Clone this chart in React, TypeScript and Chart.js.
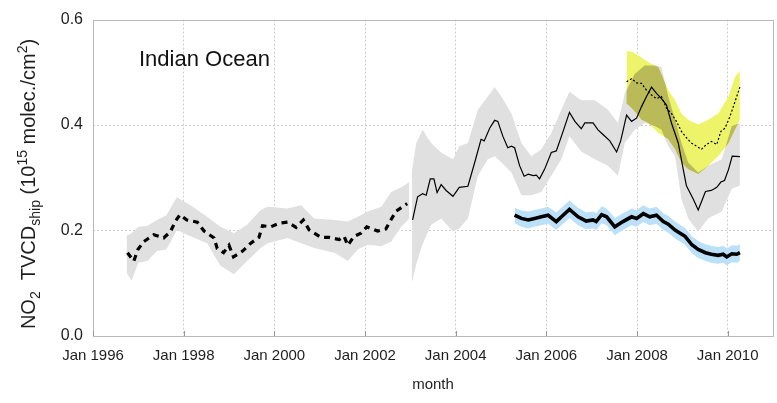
import React, { useEffect, useRef } from 'react';
import { Chart, registerables } from 'chart.js';

Chart.register(...registerables);

const FONT = '"Liberation Sans", Arial, Helvetica, sans-serif';

const X_TICKS = [1996, 1998, 2000, 2002, 2004, 2006, 2008, 2010];
const Y_TICKS = [0, 0.2, 0.4, 0.6];
const PANEL_LABEL = 'Indian Ocean';
const X_TITLE = 'month';

// GOME (dashed thick line + grey band)
const gomeX = [1996.76, 1996.9, 1996.99, 1997.12, 1997.34, 1997.56, 1997.71, 1997.82, 1997.92, 1998.07, 1998.3, 1998.45, 1998.67, 1998.74, 1998.88, 1999.0, 1999.1, 1999.3, 1999.48, 1999.66, 1999.74, 1999.92, 2000.11, 2000.29, 2000.48, 2000.64, 2000.77, 2000.88, 2001.03, 2001.21, 2001.43, 2001.54, 2001.62, 2001.76, 2001.91, 2002.04, 2002.28, 2002.46, 2002.57, 2002.69, 2002.93];
const gomeY = [0.158, 0.142, 0.164, 0.179, 0.192, 0.186, 0.198, 0.218, 0.23, 0.22, 0.216, 0.199, 0.186, 0.166, 0.158, 0.172, 0.15, 0.161, 0.176, 0.187, 0.209, 0.207, 0.214, 0.216, 0.206, 0.22, 0.201, 0.195, 0.187, 0.187, 0.183, 0.189, 0.172, 0.189, 0.195, 0.207, 0.199, 0.203, 0.22, 0.237, 0.251];
const gomeBandX = [1996.74, 1996.85, 1997.0, 1997.2, 1997.41, 1997.62, 1997.85, 1998.15, 1998.52, 1998.81, 1999.11, 1999.4, 1999.7, 1999.85, 2000.29, 2000.59, 2000.88, 2001.33, 2001.62, 2001.84, 2002.06, 2002.36, 2002.58, 2002.8, 2002.98];
const gomeBandUpper = [0.19, 0.195, 0.207, 0.209, 0.22, 0.229, 0.263, 0.248, 0.226, 0.207, 0.195, 0.211, 0.239, 0.245, 0.242, 0.248, 0.223, 0.22, 0.217, 0.226, 0.236, 0.245, 0.273, 0.282, 0.292];
const gomeBandLower = [0.12, 0.105, 0.139, 0.142, 0.161, 0.164, 0.201, 0.189, 0.176, 0.133, 0.117, 0.142, 0.167, 0.176, 0.186, 0.176, 0.167, 0.158, 0.142, 0.164, 0.173, 0.17, 0.179, 0.207, 0.223];

// SCIAMACHY (thin line + grey band)
const sciaX = [2003.05, 2003.16, 2003.27, 2003.35, 2003.44, 2003.52, 2003.59, 2003.68, 2003.79, 2003.94, 2004.08, 2004.27, 2004.42, 2004.56, 2004.63, 2004.75, 2004.86, 2004.93, 2005.04, 2005.15, 2005.23, 2005.3, 2005.41, 2005.51, 2005.6, 2005.71, 2005.78, 2005.85, 2005.96, 2006.11, 2006.22, 2006.37, 2006.51, 2006.63, 2006.77, 2006.85, 2007.03, 2007.14, 2007.25, 2007.4, 2007.55, 2007.64, 2007.77, 2007.88, 2007.99, 2008.1, 2008.21, 2008.32, 2008.43, 2008.54, 2008.65, 2008.76, 2008.91, 2009.02, 2009.09, 2009.24, 2009.35, 2009.42, 2009.51, 2009.64, 2009.76, 2009.85, 2009.93, 2010.02, 2010.1, 2010.27];
const sciaY = [0.22, 0.264, 0.27, 0.267, 0.298, 0.298, 0.272, 0.287, 0.276, 0.265, 0.282, 0.284, 0.329, 0.373, 0.37, 0.394, 0.409, 0.407, 0.379, 0.357, 0.36, 0.357, 0.323, 0.303, 0.307, 0.304, 0.305, 0.298, 0.316, 0.348, 0.351, 0.388, 0.424, 0.407, 0.393, 0.404, 0.404, 0.391, 0.382, 0.37, 0.349, 0.37, 0.419, 0.407, 0.413, 0.435, 0.454, 0.472, 0.46, 0.45, 0.438, 0.404, 0.366, 0.316, 0.285, 0.26, 0.239, 0.254, 0.274, 0.276, 0.282, 0.292, 0.295, 0.316, 0.341, 0.34];
const sciaBandX = [2003.03, 2003.13, 2003.27, 2003.46, 2003.68, 2003.94, 2004.08, 2004.27, 2004.49, 2004.71, 2004.86, 2005.01, 2005.23, 2005.45, 2005.67, 2005.89, 2006.11, 2006.33, 2006.51, 2006.77, 2007.07, 2007.36, 2007.58, 2007.73, 2007.95, 2008.17, 2008.39, 2008.54, 2008.69, 2008.84, 2008.98, 2009.13, 2009.35, 2009.57, 2009.87, 2010.09, 2010.27];
const sciaBandUpper = [0.31, 0.366, 0.391, 0.366, 0.348, 0.335, 0.36, 0.366, 0.429, 0.454, 0.472, 0.454, 0.422, 0.366, 0.341, 0.354, 0.385, 0.429, 0.463, 0.447, 0.447, 0.429, 0.404, 0.46, 0.497, 0.513, 0.513, 0.51, 0.454, 0.41, 0.366, 0.329, 0.31, 0.323, 0.335, 0.398, 0.404];
const sciaBandLower = [0.099, 0.136, 0.174, 0.211, 0.223, 0.198, 0.204, 0.223, 0.304, 0.335, 0.341, 0.329, 0.31, 0.267, 0.267, 0.273, 0.304, 0.335, 0.379, 0.35, 0.335, 0.323, 0.304, 0.366, 0.391, 0.404, 0.398, 0.391, 0.36, 0.341, 0.26, 0.223, 0.198, 0.223, 0.236, 0.279, 0.285];

// GOME-2 (dotted line + yellow band)
const gome2X = [2007.77, 2007.88, 2007.99, 2008.1, 2008.21, 2008.32, 2008.43, 2008.54, 2008.65, 2008.76, 2008.87, 2008.98, 2009.09, 2009.2, 2009.31, 2009.42, 2009.53, 2009.64, 2009.76, 2009.85, 2009.94, 2010.05, 2010.16, 2010.27];
const gome2Y = [0.482, 0.488, 0.48, 0.479, 0.466, 0.457, 0.45, 0.454, 0.432, 0.422, 0.407, 0.388, 0.376, 0.366, 0.36, 0.354, 0.363, 0.369, 0.363, 0.388, 0.394, 0.416, 0.444, 0.472];
const gome2BandX = [2007.77, 2007.92, 2008.1, 2008.25, 2008.47, 2008.69, 2008.84, 2008.98, 2009.13, 2009.35, 2009.57, 2009.79, 2010.02, 2010.16, 2010.27];
const gome2BandUpper = [0.541, 0.538, 0.528, 0.519, 0.51, 0.466, 0.447, 0.422, 0.41, 0.401, 0.41, 0.422, 0.454, 0.491, 0.503];
const gome2BandLower = [0.441, 0.429, 0.41, 0.404, 0.385, 0.373, 0.354, 0.329, 0.316, 0.307, 0.323, 0.341, 0.366, 0.391, 0.41];

// OMI (thick line + light blue band)
const omiX = [2005.3, 2005.45, 2005.6, 2005.74, 2005.89, 2006.04, 2006.22, 2006.37, 2006.51, 2006.7, 2006.88, 2007.03, 2007.1, 2007.22, 2007.33, 2007.51, 2007.69, 2007.88, 2007.99, 2008.14, 2008.28, 2008.43, 2008.58, 2008.69, 2008.84, 2008.95, 2009.06, 2009.21, 2009.35, 2009.51, 2009.64, 2009.79, 2009.9, 2009.98, 2010.09, 2010.2, 2010.27];
const omiY = [0.229, 0.223, 0.22, 0.223, 0.226, 0.229, 0.217, 0.229, 0.24, 0.226, 0.218, 0.22, 0.217, 0.23, 0.226, 0.207, 0.217, 0.226, 0.223, 0.232, 0.226, 0.229, 0.217, 0.212, 0.201, 0.195, 0.189, 0.173, 0.164, 0.158, 0.155, 0.153, 0.155, 0.15, 0.156, 0.155, 0.158];
const omiUpper = [0.243, 0.238, 0.236, 0.239, 0.242, 0.245, 0.234, 0.246, 0.257, 0.243, 0.234, 0.236, 0.233, 0.246, 0.242, 0.224, 0.233, 0.242, 0.239, 0.248, 0.242, 0.245, 0.233, 0.228, 0.217, 0.211, 0.205, 0.189, 0.18, 0.174, 0.171, 0.169, 0.171, 0.166, 0.172, 0.171, 0.174];
const omiLower = [0.214, 0.207, 0.204, 0.207, 0.21, 0.213, 0.201, 0.213, 0.224, 0.21, 0.202, 0.204, 0.201, 0.214, 0.21, 0.191, 0.201, 0.21, 0.207, 0.216, 0.21, 0.213, 0.201, 0.196, 0.185, 0.179, 0.173, 0.157, 0.148, 0.142, 0.139, 0.137, 0.139, 0.134, 0.14, 0.139, 0.142];

const GRAY = 'rgb(224,224,224)';
const YELLOW = 'rgb(238,244,105)';
const OLIVE = 'rgb(186,186,88)';
const BLUE = 'rgb(188,224,248)';
const GRID = 'rgb(205,205,205)';
const FRAME = 'rgb(185,185,185)';
const TEXT = '#1e1e1e';

const zip = (xs: number[], ys: number[]) => xs.map((x, i) => ({ x, y: ys[i] }));

const band = (xs: number[], up: number[], lo: number[], color: string, order: number) => [
  { data: zip(xs, up), borderWidth: 0, pointRadius: 0, fill: '+1', backgroundColor: color, order },
  { data: zip(xs, lo), borderWidth: 0, pointRadius: 0, fill: false, backgroundColor: color, order },
];

const decorPlugin = {
  id: 'decor',
  beforeDatasetsDraw(chart: any) {
    // overlap of grey SCIAMACHY band and yellow GOME-2 band
    const ctx = chart.ctx;
    const area = chart.chartArea;
    const su = chart.getDatasetMeta(2).data;
    const sl = chart.getDatasetMeta(3).data;
    const gu = chart.getDatasetMeta(4).data;
    const gl = chart.getDatasetMeta(5).data;
    const poly = (up: any[], lo: any[]) => {
      ctx.beginPath();
      up.forEach((p: any, i: number) => (i ? ctx.lineTo(p.x, p.y) : ctx.moveTo(p.x, p.y)));
      for (let i = lo.length - 1; i >= 0; i--) ctx.lineTo(lo[i].x, lo[i].y);
      ctx.closePath();
    };
    ctx.save();
    ctx.beginPath();
    ctx.rect(area.left, area.top, area.right - area.left, area.bottom - area.top);
    ctx.clip();
    poly(su, sl);
    ctx.clip();
    poly(gu, gl);
    ctx.fillStyle = OLIVE;
    ctx.fill();
    ctx.restore();
  },
  afterDraw(chart: any) {
    const ctx = chart.ctx;
    const a = chart.chartArea;
    const xs = chart.scales.x;
    ctx.save();
    // frame
    ctx.strokeStyle = FRAME;
    ctx.lineWidth = 1;
    ctx.strokeRect(Math.round(a.left) + 0.5, Math.round(a.top) + 0.5, Math.round(a.right - a.left), Math.round(a.bottom - a.top));
    // small tick marks at the bottom
    ctx.strokeStyle = 'rgb(150,150,150)';
    X_TICKS.forEach((v) => {
      const px = Math.round(xs.getPixelForValue(v)) + 0.5;
      ctx.beginPath();
      ctx.moveTo(px, a.bottom);
      ctx.lineTo(px, a.bottom - 5);
      ctx.stroke();
    });
    // panel label
    ctx.fillStyle = '#111';
    ctx.font = `22px ${FONT}`;
    ctx.textBaseline = 'alphabetic';
    ctx.textAlign = 'left';
    ctx.fillText(PANEL_LABEL, 139, 66);
    // y-axis title with sub/superscripts
    const segs = [
      { t: 'NO', s: 20, dy: 0 },
      { t: '2', s: 14, dy: 5 },
      { t: '  TVCD', s: 20, dy: 0 },
      { t: 'ship', s: 14, dy: 5 },
      { t: ' (10', s: 20, dy: 0 },
      { t: '15', s: 14, dy: -8 },
      { t: ' molec./cm', s: 20, dy: 0 },
      { t: '2', s: 14, dy: -8 },
      { t: ')', s: 20, dy: 0 },
    ];
    let total = 0;
    segs.forEach((g) => {
      ctx.font = `${g.s}px ${FONT}`;
      total += ctx.measureText(g.t).width;
    });
    ctx.translate(35, 184);
    ctx.rotate(-Math.PI / 2);
    ctx.fillStyle = TEXT;
    let cx = -total / 2;
    segs.forEach((g) => {
      ctx.font = `${g.s}px ${FONT}`;
      ctx.fillText(g.t, cx, g.dy);
      cx += ctx.measureText(g.t).width;
    });
    ctx.restore();
  },
};

export default function App() {
  const ref = useRef<HTMLCanvasElement | null>(null);
  useEffect(() => {
    if (!ref.current) return;
    const datasets: any[] = [
      ...band(gomeBandX, gomeBandUpper, gomeBandLower, GRAY, 5),
      ...band(sciaBandX, sciaBandUpper, sciaBandLower, GRAY, 5),
      ...band(gome2BandX, gome2BandUpper, gome2BandLower, YELLOW, 4),
      ...band(omiX, omiUpper, omiLower, BLUE, 3),
      { label: 'GOME', data: zip(gomeX, gomeY), borderColor: '#000', borderWidth: 3.2, borderDash: [6, 5], pointRadius: 0, fill: false, order: 1 },
      { label: 'SCIAMACHY', data: zip(sciaX, sciaY), borderColor: '#000', borderWidth: 1.2, pointRadius: 0, fill: false, order: 0 },
      { label: 'GOME-2', data: zip(gome2X, gome2Y), borderColor: '#000', borderWidth: 1.2, borderDash: [2, 2], pointRadius: 0, fill: false, order: 0 },
      { label: 'OMI', data: zip(omiX, omiY), borderColor: '#000', borderWidth: 3.6, pointRadius: 0, fill: false, order: 0 },
    ];
    const chart = new Chart(ref.current, {
      type: 'line',
      data: { datasets },
      options: {
        responsive: false,
        animation: false,
        layout: { padding: { top: 14, right: 4, left: 0, bottom: 0 } },
        elements: { point: { radius: 0 }, line: { tension: 0 } },
        plugins: {
          legend: { display: false },
          tooltip: { enabled: false },
          filler: { drawTime: 'beforeDatasetsDraw' },
        },
        scales: {
          x: {
            type: 'linear',
            min: 1996,
            max: 2011,
            afterBuildTicks: (s: any) => {
              s.ticks = X_TICKS.map((v) => ({ value: v }));
            },
            afterFit: (s: any) => {
              s.height = 67;
            },
            ticks: {
              callback: (v: any) => 'Jan ' + v,
              font: { family: FONT, size: 15 },
              color: TEXT,
              padding: 11,
              maxRotation: 0,
              autoSkip: false,
            },
            grid: {
              color: (c: any) => (c.tick && c.tick.value === 1996 ? 'rgba(0,0,0,0)' : GRID),
              drawTicks: false,
              lineWidth: 1,
            },
            border: { display: false, dash: [2, 2] },
            title: {
              display: true,
              text: X_TITLE,
              font: { family: FONT, size: 15 },
              color: TEXT,
              padding: { top: 0, bottom: 9 },
            },
          },
          y: {
            type: 'linear',
            min: 0,
            max: 0.6,
            afterBuildTicks: (s: any) => {
              s.ticks = Y_TICKS.map((v) => ({ value: v }));
            },
            afterFit: (s: any) => {
              s.width = 93;
            },
            ticks: {
              callback: (v: any) => Number(v).toFixed(1),
              font: { family: FONT, size: 16 },
              color: TEXT,
              padding: 10,
            },
            grid: {
              color: (c: any) => (c.tick && (c.tick.value === 0 || c.tick.value === 0.6) ? 'rgba(0,0,0,0)' : GRID),
              drawTicks: false,
              lineWidth: 1,
            },
            border: { display: false, dash: [2, 2] },
          },
        },
      },
      plugins: [decorPlugin],
    } as any);
    return () => chart.destroy();
  }, []);
  return (
    <div style={{ position: 'fixed', left: 0, top: 0, width: 777, height: 403, background: '#fff' }}>
      <canvas ref={ref} width={777} height={403} style={{ display: 'block' }} />
    </div>
  );
}
